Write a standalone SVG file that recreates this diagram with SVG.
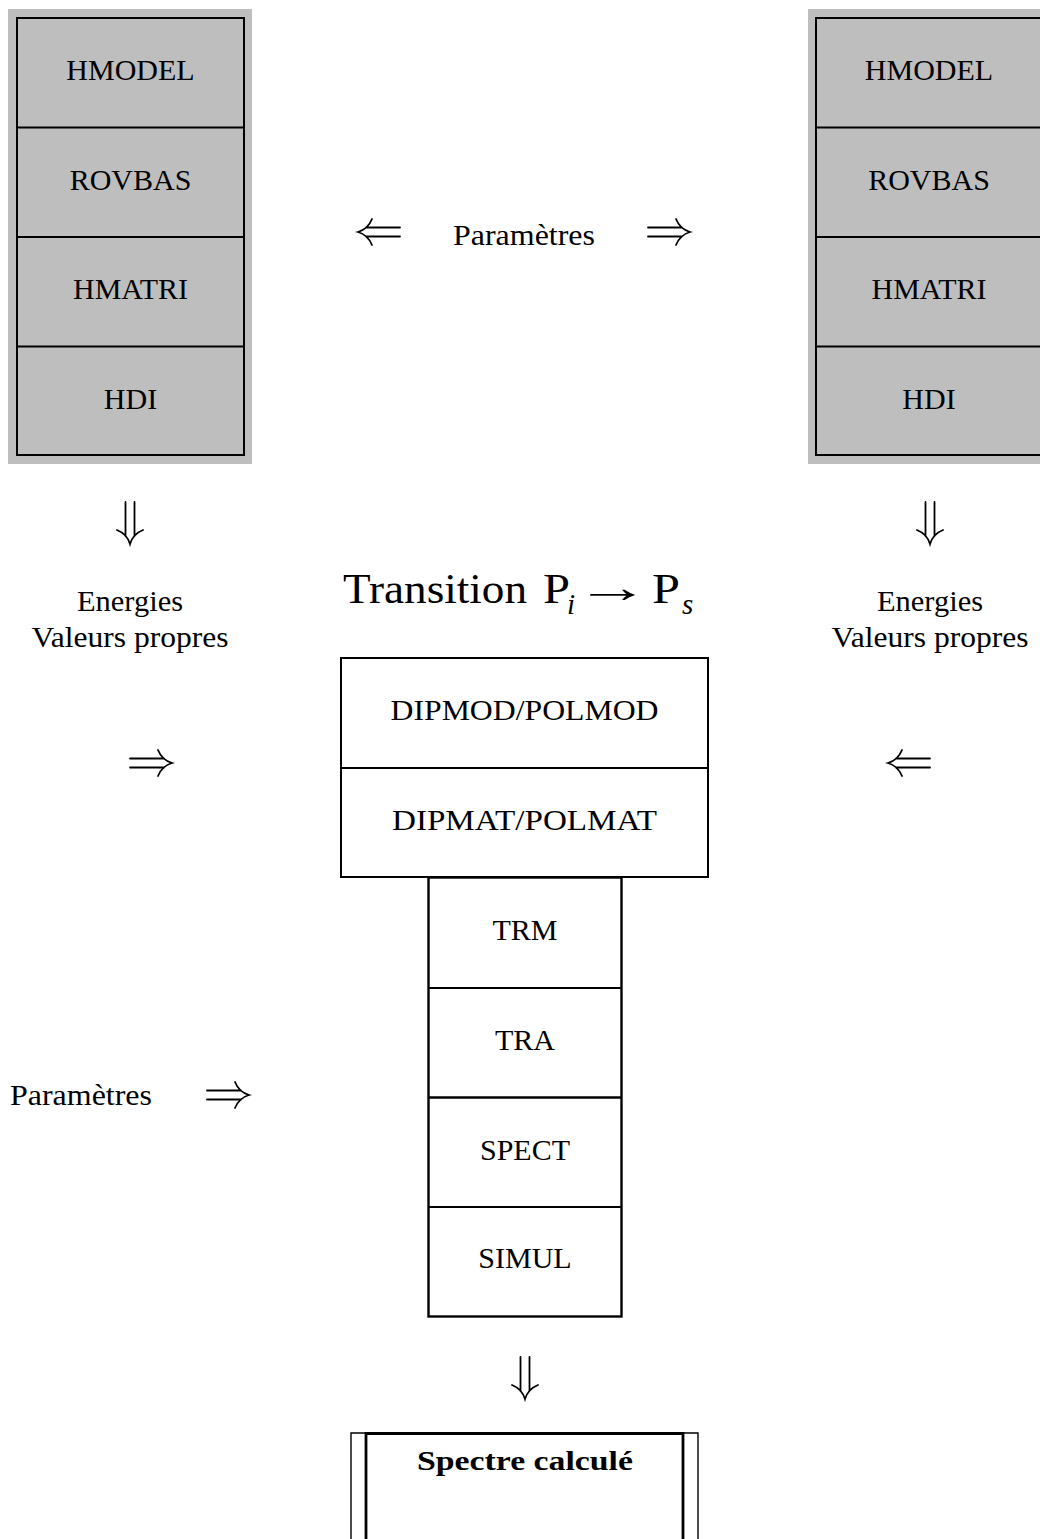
<svg xmlns="http://www.w3.org/2000/svg" xmlns:xlink="http://www.w3.org/1999/xlink" width="1040" height="1539" viewBox="0 0 1040 1539">
<style>
  .t { font-family: "Liberation Serif", "Times New Roman", serif; font-size: 30px; fill: #000; }
  .lc { font-family: "Liberation Serif", "Times New Roman", serif; font-size: 29px; fill: #000; }
  .box { fill: none; stroke: #000; stroke-width: 2; }
  .grey { fill: #bebebe; stroke: none; }
  .div { stroke: #000; stroke-width: 2; }
  .arr { fill: none; stroke: #000; stroke-width: 1.8; stroke-linecap: round; }
</style>
<defs>
  <path id="arrR" class="arr" d="M0,-4.5 H34 M0,4.5 H34 M28,-13 Q32,-3 42,0 Q32,3 28,13"/>
</defs>
<rect width="1040" height="1539" fill="#fff"/>

<g id="left-stack">
  <rect class="grey" x="8" y="9" width="244" height="455"/>
  <rect class="box" x="17" y="18" width="227" height="437" fill="#bebebe"/>
  <line class="div" x1="17" y1="127.5" x2="244" y2="127.5"/>
  <line class="div" x1="17" y1="237" x2="244" y2="237"/>
  <line class="div" x1="17" y1="346.5" x2="244" y2="346.5"/>
  <text class="t" x="130.5" y="80" text-anchor="middle">HMODEL</text>
  <text class="t" x="130.5" y="190" text-anchor="middle">ROVBAS</text>
  <text class="t" x="130.5" y="299" text-anchor="middle">HMATRI</text>
  <text class="t" x="130.5" y="409" text-anchor="middle">HDI</text>
</g>

<g id="right-stack">
  <rect class="grey" x="808" y="9" width="244" height="455"/>
  <rect class="box" x="816" y="18" width="228" height="437" fill="#bebebe"/>
  <line class="div" x1="816" y1="127.5" x2="1044" y2="127.5"/>
  <line class="div" x1="816" y1="237" x2="1044" y2="237"/>
  <line class="div" x1="816" y1="346.5" x2="1044" y2="346.5"/>
  <text class="t" x="929" y="80" text-anchor="middle">HMODEL</text>
  <text class="t" x="929" y="190" text-anchor="middle">ROVBAS</text>
  <text class="t" x="929" y="299" text-anchor="middle">HMATRI</text>
  <text class="t" x="929" y="409" text-anchor="middle">HDI</text>
</g>

<g id="label-params-top">
  <text class="lc" x="453" y="245" textLength="142" lengthAdjust="spacingAndGlyphs">Paramètres</text>
</g>

<g id="label-energies-left">
  <text class="lc" x="130" y="611" text-anchor="middle" textLength="106" lengthAdjust="spacingAndGlyphs">Energies</text>
  <text class="lc" x="130" y="647" text-anchor="middle" textLength="197" lengthAdjust="spacingAndGlyphs">Valeurs propres</text>
</g>

<g id="label-energies-right">
  <text class="lc" x="930" y="611" text-anchor="middle" textLength="106" lengthAdjust="spacingAndGlyphs">Energies</text>
  <text class="lc" x="930" y="647" text-anchor="middle" textLength="197" lengthAdjust="spacingAndGlyphs">Valeurs propres</text>
</g>

<g id="title">
  <text class="t" x="343" y="603" style="font-size:42px" textLength="184" lengthAdjust="spacingAndGlyphs">Transition</text>
  <text class="t" x="543" y="603" style="font-size:42px" textLength="27" lengthAdjust="spacingAndGlyphs">P</text>
  <text class="t" x="567" y="614" style="font-size:29px;font-style:italic">i</text>
  <text class="t" transform="translate(575,602) scale(1.7,1)" x="0" y="0" style="font-size:44px">→</text>
  <text class="t" x="652" y="603" style="font-size:42px" textLength="28" lengthAdjust="spacingAndGlyphs">P</text>
  <text class="t" x="682" y="614" style="font-size:29px;font-style:italic">s</text>
</g>

<g id="dip-block">
  <rect class="box" x="341" y="658" width="367" height="219"/>
  <line class="div" x1="341" y1="768" x2="708" y2="768"/>
  <text class="t" x="524.5" y="720" text-anchor="middle" textLength="268" lengthAdjust="spacingAndGlyphs">DIPMOD/POLMOD</text>
  <text class="t" x="524.5" y="830" text-anchor="middle" textLength="265" lengthAdjust="spacingAndGlyphs">DIPMAT/POLMAT</text>
</g>

<g id="trm-stack">
  <rect class="box" x="428.5" y="877.5" width="193" height="439" style="stroke-width:2.4"/>
  <line class="div" x1="428.5" y1="988" x2="621.5" y2="988"/>
  <line class="div" x1="428.5" y1="1097.5" x2="621.5" y2="1097.5" style="stroke-width:2.4"/>
  <line class="div" x1="428.5" y1="1207" x2="621.5" y2="1207"/>
  <text class="t" x="525" y="940" text-anchor="middle">TRM</text>
  <text class="t" x="525" y="1050" text-anchor="middle">TRA</text>
  <text class="t" x="525" y="1160" text-anchor="middle">SPECT</text>
  <text class="t" x="525" y="1268" text-anchor="middle">SIMUL</text>
</g>

<g id="label-params-bottom">
  <text class="lc" x="10" y="1105" textLength="142" lengthAdjust="spacingAndGlyphs">Paramètres</text>
</g>

<g id="result">
  <path d="M351,1545 V1433 H698 V1545" fill="none" stroke="#000" stroke-width="1.4"/>
  <path d="M366,1545 V1433.5 H683 V1545" fill="none" stroke="#000" stroke-width="2.8"/>
  <text class="t" x="525" y="1470" text-anchor="middle" style="font-size:28px;font-weight:bold" textLength="216" lengthAdjust="spacingAndGlyphs">Spectre calculé</text>
</g>

<g id="connectors">
  <use xlink:href="#arrR" transform="translate(400,232) rotate(180)"/>
  <use xlink:href="#arrR" transform="translate(648,232)"/>
  <use xlink:href="#arrR" transform="translate(130,502) rotate(90)"/>
  <use xlink:href="#arrR" transform="translate(930,502) rotate(90)"/>
  <use xlink:href="#arrR" transform="translate(130,763)"/>
  <use xlink:href="#arrR" transform="translate(930,763) rotate(180)"/>
  <use xlink:href="#arrR" transform="translate(207,1095)"/>
  <use xlink:href="#arrR" transform="translate(525,1357) rotate(90)"/>
</g>
</svg>
